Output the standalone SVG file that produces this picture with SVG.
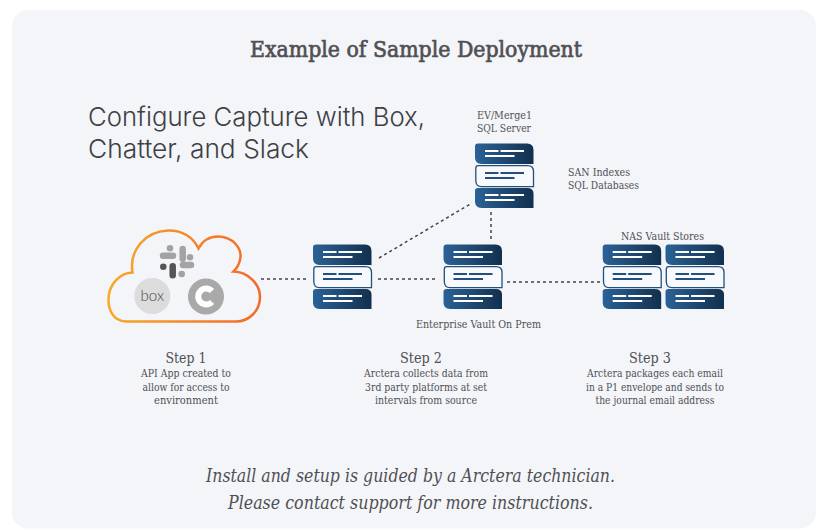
<svg xmlns="http://www.w3.org/2000/svg" width="819" height="529" viewBox="0 0 819 529">
<style>
text{font-family:"DejaVu Serif","Liberation Serif",serif;fill:#505054}
.h{font-family:Inter,Lato,sans-serif;font-weight:300;font-size:26px;fill:#3f3f44}
.t{font-size:22px;stroke:#505054;stroke-width:.7}
.s{font-size:14.500px}
.b,.l{font-size:10.500px}
.i{font-size:18px;font-style:italic}
.c{fill:none;stroke:#444;stroke-width:1.5;stroke-dasharray:3 3}
.sl{fill:none;stroke:#a3a3a3;stroke-width:6.5;stroke-linecap:round}
</style>
<defs>
<linearGradient id="g" x1="0" x2="1" y1="0" y2="0"><stop offset="0" stop-color="#2a6296"/><stop offset="1" stop-color="#12304f"/></linearGradient>
<linearGradient id="o" x1="0" x2="1" y1="0" y2="0"><stop offset="0" stop-color="#f9a825"/><stop offset="1" stop-color="#f2692b"/></linearGradient>
<g id="srv">
<path d="M3 0H52Q58.500 0 58.500 6.500V20.500H6.500Q0 20.500 0 14V3Q0 0 3 0Z" fill="url(#g)"/>
<path d="M3 22.200H52.500Q58.500 22.200 58.500 28V43.200H6.500Q0.800 43.200 0.800 37V25Q0.800 22.200 3 22.200Z" fill="#f7f9fc" stroke="#234f7c" stroke-width="1.300"/>
<path d="M3 44.500H52Q58.500 44.500 58.500 50V64.500H6.500Q0 64.500 0 58V47Q0 44.500 3 44.500Z" fill="url(#g)"/>
<g fill="none" stroke="#fff" stroke-width="2">
<path d="M10 7.500H23.500M25.500 7.500H49M10 12.500H39.500"/>
<path d="M10 51.500H23.500M25.500 51.500H49M10 56.500H39.500"/>
</g>
<path d="M10 29.500H23.500M25.500 29.500H49M10 34.500H39.500" fill="none" stroke="#234f7c" stroke-width="2"/>
</g>
</defs>
<rect width="819" height="529" fill="#fff"/>
<rect x="12" y="10" width="804" height="518.500" rx="16" fill="#f3f5f9"/>
<g id="labels">
<text class="t" x="250" y="57" textLength="332" lengthAdjust="spacingAndGlyphs">Example of Sample Deployment</text>
<text class="h" x="88" y="126" textLength="337" lengthAdjust="spacingAndGlyphs">Configure Capture with Box,</text>
<text class="h" x="88" y="158" textLength="221" lengthAdjust="spacingAndGlyphs">Chatter, and Slack</text>
<text class="i" x="206" y="482" textLength="409" lengthAdjust="spacingAndGlyphs">Install and setup is guided by a Arctera technician.</text>
<text class="i" x="228" y="509" textLength="365" lengthAdjust="spacingAndGlyphs">Please contact support for more instructions.</text>
</g>
<g id="connectors">
<path class="c" d="M261 279H307"/>
<path class="c" d="M378 279H438"/>
<path class="c" d="M507 282H600"/>
<path class="c" d="M379 258L472 203"/>
<path class="c" d="M491 212V240"/>
</g>
<g id="cloud">
<path d="M126 321.500C112 321 108.500 308 108.500 300C108.500 284 120 273 132.500 272.500C129 250 145 231.500 168 230.500C182 230 193 237 198.500 248.500C203 240 210 236.500 218 236.500C232 236.500 243 248 240 260C239 265 236 269 233.500 271.500C248 272 260 284 260 297C260 311 249 321.500 236 321.500Z" fill="none" stroke="url(#o)" stroke-width="2.500"/>
<circle cx="152.300" cy="296" r="18" fill="#dcdcdc"/>
<text x="152.300" y="300.500" text-anchor="middle" style="font-family:Lato,sans-serif;font-weight:300;font-size:15px;fill:#444">box</text>
<circle cx="206" cy="296.500" r="18" fill="#a9a9a9"/>
<path d="M212 291A8 8 0 1 0 212 302" fill="none" stroke="#fff" stroke-width="6"/>
<path class="sl" d="M163 255.700H173M182.700 249V258.700M183 265H191"/>
<path class="sl" d="M172.700 266.300V275.300" style="stroke:#555"/>
<circle cx="190" cy="257.300" r="3.300" fill="#a3a3a3"/><circle cx="163.300" cy="266.700" r="3.300" fill="#555"/><circle cx="170" cy="248.300" r="3.300" fill="#a3a3a3"/><circle cx="181.700" cy="274" r="3.300" fill="#a3a3a3"/>
</g>
<g id="step1">
<text class="s" x="186" y="363" text-anchor="middle" textLength="41" lengthAdjust="spacingAndGlyphs">Step 1</text>
<text class="b" x="186" y="377" text-anchor="middle" textLength="90" lengthAdjust="spacingAndGlyphs">API App created to</text>
<text class="b" x="186" y="391" text-anchor="middle" textLength="87" lengthAdjust="spacingAndGlyphs">allow for access to</text>
<text class="b" x="186" y="404" text-anchor="middle" textLength="64" lengthAdjust="spacingAndGlyphs">environment</text>
</g>
<g id="step2">
<use href="#srv" x="313" y="244.500"/>
<text class="s" x="421" y="363" text-anchor="middle" textLength="42" lengthAdjust="spacingAndGlyphs">Step 2</text>
<text class="b" x="426" y="377" text-anchor="middle" textLength="124" lengthAdjust="spacingAndGlyphs">Arctera collects data from</text>
<text class="b" x="426" y="391" text-anchor="middle" textLength="122" lengthAdjust="spacingAndGlyphs">3rd party platforms at set</text>
<text class="b" x="426" y="404" text-anchor="middle" textLength="102" lengthAdjust="spacingAndGlyphs">intervals from source</text>
</g>
<g id="vault">
<use href="#srv" x="443.500" y="244.500"/>
<text class="l" x="416" y="328" textLength="125" lengthAdjust="spacingAndGlyphs">Enterprise Vault On Prem</text>
</g>
<g id="merge">
<use href="#srv" x="475" y="143.500"/>
<text class="l" x="477" y="119" textLength="55" lengthAdjust="spacingAndGlyphs">EV/Merge1</text>
<text class="l" x="477" y="132" textLength="54" lengthAdjust="spacingAndGlyphs">SQL Server</text>
<text class="l" x="568" y="176" textLength="62" lengthAdjust="spacingAndGlyphs">SAN Indexes</text>
<text class="l" x="568" y="189" textLength="71" lengthAdjust="spacingAndGlyphs">SQL Databases</text>
</g>
<g id="nas">
<use href="#srv" x="602.700" y="244.500"/>
<use href="#srv" x="665.500" y="244.500"/>
<text class="l" x="621" y="240" textLength="83" lengthAdjust="spacingAndGlyphs">NAS Vault Stores</text>
</g>
<g id="step3">
<text class="s" x="650" y="363" text-anchor="middle" textLength="42" lengthAdjust="spacingAndGlyphs">Step 3</text>
<text class="b" x="655" y="377" text-anchor="middle" textLength="136" lengthAdjust="spacingAndGlyphs">Arctera packages each email</text>
<text class="b" x="655" y="391" text-anchor="middle" textLength="138" lengthAdjust="spacingAndGlyphs">in a P1 envelope and sends to</text>
<text class="b" x="655" y="404" text-anchor="middle" textLength="119" lengthAdjust="spacingAndGlyphs">the journal email address</text>
</g>
</svg>
